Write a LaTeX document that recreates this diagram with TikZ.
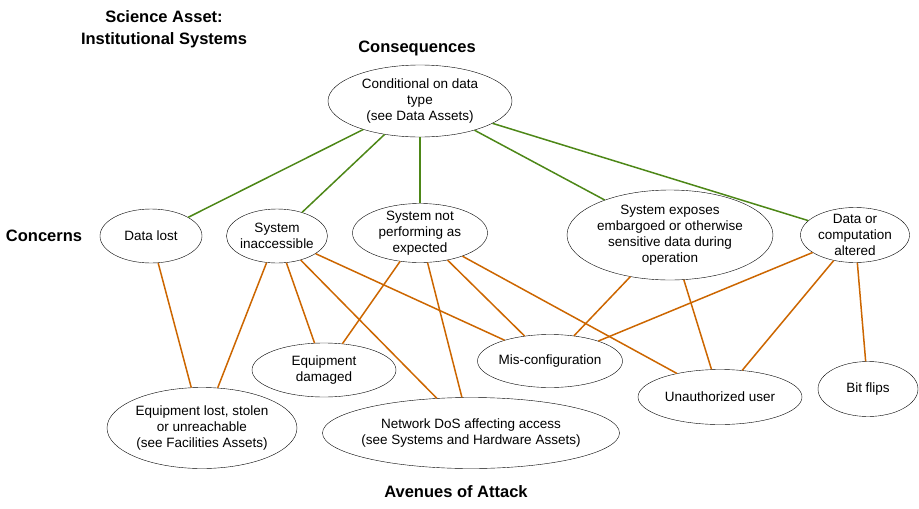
\documentclass[tikz,border=0pt]{standalone}
\usepackage{fontspec}
\setmainfont{Liberation Sans}
\usetikzlibrary{shapes.geometric}
\definecolor{consgreen}{RGB}{77,135,23}
\definecolor{attorange}{RGB}{204,102,0}
\tikzset{
  oval/.style={ellipse, draw, thin, align=center, inner xsep=-8pt, inner ysep=-6pt,
    font=\fontsize{13.5}{16}\selectfont},
  heading/.style={align=center, inner sep=0pt, font=\fontsize{16.5}{22}\selectfont\bfseries},
}
\begin{document}
\begin{tikzpicture}[x=1pt, y=-1pt]
\useasboundingbox (0,0) rectangle (919,509);
    \node[heading] (t0) at (164,29) {Science Asset:\\Institutional Systems};
    \node[heading] (t1) at (417,48) {Consequences};
    \node[heading] (t2) at (44,236) {Concerns};
    \node[heading] (t3) at (456,492) {Avenues of Attack};
    \node[oval, minimum width=184pt, minimum height=72pt] (c0) at (420,101) {Conditional on data\\type\\(see Data Assets)};
    \node[oval, minimum width=102pt, minimum height=54pt] (k0) at (151,236) {Data lost};
    \node[oval, minimum width=101pt, minimum height=54pt] (k1) at (277,236) {System\\inaccessible};
    \node[oval, minimum width=135pt, minimum height=59pt] (k2) at (420,233) {System not\\performing as\\expected};
    \node[oval, minimum width=206pt, minimum height=90pt] (k3) at (670,235) {System exposes\\embargoed or otherwise\\sensitive data during\\operation};
    \node[oval, minimum width=109pt, minimum height=55pt] (k4) at (855,235) {Data or\\computation\\altered};
    \node[oval, minimum width=190pt, minimum height=81pt] (a0) at (202,428) {Equipment lost, stolen\\or unreachable\\(see Facilities Assets)};
    \node[oval, minimum width=144pt, minimum height=54pt] (a1) at (324,370) {Equipment\\damaged};
    \node[oval, minimum width=297pt, minimum height=71pt] (a2) at (471,433) {Network DoS affecting access\\(see Systems and Hardware Assets)};
    \node[oval, minimum width=145pt, minimum height=53pt] (a3) at (550,361) {Mis-configuration};
    \node[oval, minimum width=164pt, minimum height=55pt] (a4) at (720,397) {Unauthorized user};
    \node[oval, minimum width=100pt, minimum height=55pt] (a5) at (868,389) {Bit flips};
    \foreach \from/\to in {c0/k0, c0/k1, c0/k2, c0/k3, c0/k4}
        \draw[consgreen, line width=1.5pt] (\from) -- (\to);
    \foreach \from/\to in {k0/a0, k1/a0, k1/a1, k1/a2, k1/a3, k2/a1, k2/a2, k2/a3, k2/a4, k3/a3, k3/a4, k4/a3, k4/a4, k4/a5}
        \draw[attorange, line width=1.5pt] (\from) -- (\to);
\end{tikzpicture}
\end{document}
